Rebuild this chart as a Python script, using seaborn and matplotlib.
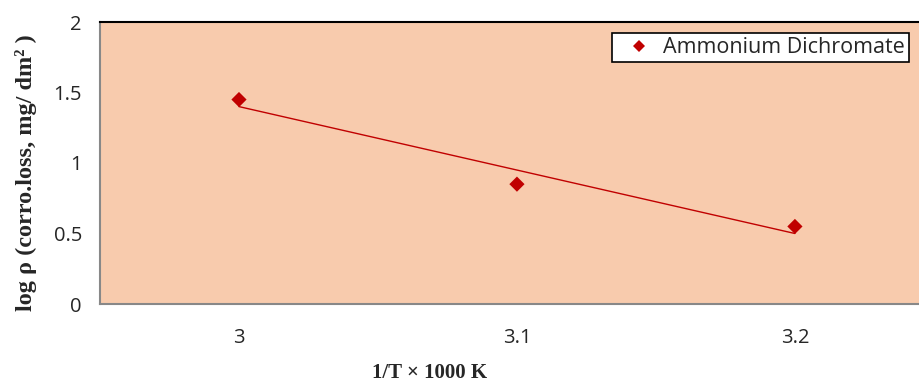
import numpy as np
import pandas as pd
import matplotlib
matplotlib.use("Agg")
import matplotlib.pyplot as plt
import seaborn as sns

# --- data ---
inv_temp = [3.0, 3.1, 3.2]          # 1/T x 1000 K
log_rho = [1.45, 0.85, 0.55]        # log of corrosion loss
series_name = "Ammonium Dichromate"
x_ticks = [3.0, 3.1, 3.2]
x_tick_labels = ["3", "3.1", "3.2"]
y_ticks = [0, 0.5, 1, 1.5, 2]
y_tick_labels = ["0", "0.5", "1", "1.5", "2"]

df = pd.DataFrame({"x": inv_temp, "y": log_rho, "series": series_name})

sns.set_style("white")
plt.rcParams["font.family"] = ["Open Sans", "DejaVu Sans"]

fig = plt.figure(figsize=(9.2, 3.85), dpi=100)
ax = fig.add_axes([100 / 920, 81 / 385, 820 / 920, 282 / 385])
ax.set_facecolor("#F8CBAD")

red = "#C00000"
sns.scatterplot(data=df, x="x", y="y", hue="series", palette=[red],
                marker="D", s=60, edgecolor=red, linewidth=0, ax=ax, zorder=3)

# linear trendline (Excel style), fitted to the points
coef = np.polyfit(inv_temp, log_rho, 1)
xs = np.array([min(inv_temp), max(inv_temp)])
ax.plot(xs, np.polyval(coef, xs), color=red, lw=1.0, zorder=2)

ax.set_xlim(2.95, 3.245)
ax.set_ylim(0, 2)
ax.set_xticks(x_ticks)
ax.set_xticklabels(x_tick_labels, fontsize=14.5)
ax.set_yticks(y_ticks)
ax.set_yticklabels(y_tick_labels, fontsize=14.5)
ax.tick_params(axis="y", direction="out", length=8, width=1, color="#888888", pad=5)
ax.tick_params(axis="x", direction="out", length=5, width=1, color="#BBBBBB", pad=12)

for side in ["left", "bottom"]:
    ax.spines[side].set_color("#888888")
    ax.spines[side].set_linewidth(1.5)
ax.spines["top"].set_color("black")
ax.spines["top"].set_linewidth(1.5)
ax.spines["right"].set_visible(False)

serif = ["Liberation Serif", "DejaVu Serif"]
ax.set_xlabel("1/T × 1000 K", fontsize=15, fontweight="bold", family=serif, va="baseline")
ax.set_ylabel("log ρ (corro.loss, mg/ dm² )", fontsize=17.5, fontweight="bold", family=serif)
ax.xaxis.set_label_coords(0.402, -0.262)
ax.yaxis.set_label_coords(-0.077, 0.465)

leg = ax.legend(loc="upper right", bbox_to_anchor=(1.0, 1.0), fontsize=15.5,
                frameon=True, fancybox=False, edgecolor="black",
                handletextpad=0.0, handlelength=2.2, borderpad=0.2, markerscale=0.8)
leg.get_frame().set_linewidth(1.2)
leg.get_frame().set_facecolor("white")
leg.get_frame().set_alpha(1)

fig.savefig("out.png", dpi=100)
